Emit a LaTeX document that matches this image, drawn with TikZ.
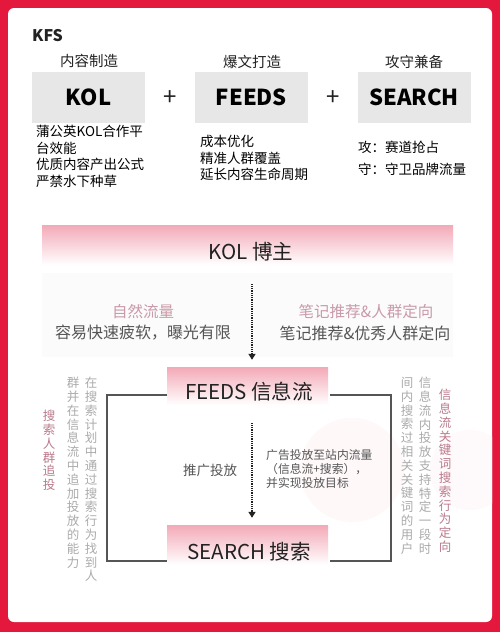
\documentclass[tikz,border=0pt]{standalone}
\usepackage{fontspec}
\setmainfont{Noto Sans CJK SC}
\usetikzlibrary{arrows.meta,calc}
\XeTeXlinebreaklocale "zh"
\XeTeXlinebreakskip=0pt plus 1pt

\definecolor{kfsred}{HTML}{E3183C}
\definecolor{boxgrey}{HTML}{E7E7E7}
\definecolor{bandpink}{HTML}{F3A9B7}
\definecolor{inkdark}{HTML}{222222}
\definecolor{inkmid}{HTML}{555555}
\definecolor{inklight}{HTML}{ABABAB}
\definecolor{inkpink}{HTML}{B97A8C}
\definecolor{softpink}{HTML}{C99AA7}

\tikzset{
  gbox/.style={fill=boxgrey, minimum width=113pt, minimum height=51pt, inner sep=0pt,
    font=\fontsize{22}{26}\selectfont\bfseries, text=black},
  head/.style={font=\fontsize{14.5}{17}\selectfont, text=inkdark},
  plus/.style={font=\fontsize{24}{26}\selectfont, text=inkdark},
  list/.style={anchor=north west, inner sep=0pt, align=left, text=black},
  band/.style={top color=bandpink, bottom color=white, inner sep=0pt},
  bandtext/.style={font=\fontsize{20.5}{24}\selectfont, text=inkdark},
  frame/.style={draw=inkmid, line width=1.1pt},
  flow/.style={draw=inkdark, line width=1.8pt, dash pattern=on 0.9pt off 0.9pt,
    -{Triangle[length=6pt,width=7pt]}},
  vcol/.style={anchor=north, inner sep=0pt, text width=14pt, align=center,
    font=\fontsize{12.5}{13.8}\selectfont},
}

\begin{document}
\begin{tikzpicture}[x=1pt,y=-1pt]
\useasboundingbox (0,0) rectangle (500,632);
\fill[kfsred] (0,0) rectangle (500,632);
\fill[white, rounded corners=6pt] (8,8) rectangle (492,622);

% faint decoration
\begin{scope}
\clip (8,8) rectangle (492,622);
\fill[kfsred!3] (352,470) circle (52);
\fill[kfsred!2.5] (470,470) circle (40);
\fill[black!1.5] (42,273) rectangle (453,357);
\end{scope}

% KFS header row
\node[anchor=west, inner sep=0pt, font=\fontsize{16}{18}\selectfont\bfseries, text=inkdark] (kfs) at (32,36) {KFS};

\node[gbox] (kol) at (88.5,97.5) {KOL};
\node[gbox] (feeds) at (251.5,97.5) {FEEDS};
\node[gbox] (search) at (414,97.5) {SEARCH};

\node[head] (kolhead) at (89,61) {内容制造};
\node[head] (feedshead) at (252,62) {爆文打造};
\node[head] (searchhead) at (414,62) {攻守兼备};

\node[plus] (plusa) at (170,98) {+};
\node[plus] (plusb) at (333,98) {+};

\node[list, font=\fontsize{13.5}{16.7}\selectfont] (kollist) at (36,125)
  {蒲公英KOL合作平\\台效能\\优质内容产出公式\\严禁水下种草};
\node[list, font=\fontsize{13.5}{16.5}\selectfont] (feedslist) at (200,135)
  {成本优化\\精准人群覆盖\\延长内容生命周期};
\node[list, font=\fontsize{13.5}{22}\selectfont] (searchlist) at (358,141)
  {攻：赛道抢占\\守：守卫品牌流量};

% KOL band
\node[band, minimum width=411pt, minimum height=40pt] (kolband) at (247.5,245) {};
\node[bandtext] (kolbz) at (251,252) {KOL 博主};

\node[font=\fontsize{15.5}{18}\selectfont, text=softpink] (natural) at (143,312) {自然流量};
\node[font=\fontsize{16}{18}\selectfont, text=inkmid] (naturaltx) at (143,333) {容易快速疲软，曝光有限};
\node[font=\fontsize{15.5}{18}\selectfont, text=softpink] (notes) at (366,312) {笔记推荐\&人群定向};
\node[font=\fontsize{16}{18}\selectfont, text=inkmid] (notestx) at (365,333) {笔记推荐\&优秀人群定向};

% FEEDS / SEARCH bands
\node[band, minimum width=161pt, minimum height=38pt] (feedsband) at (247.5,386) {};
\node[bandtext] (feedsbz) at (249,392) {FEEDS 信息流};
\node[band, minimum width=161pt, minimum height=40pt] (searchband) at (247.5,545) {};
\node[bandtext] (searchbz) at (249,552) {SEARCH 搜索};

\coordinate (ltop) at (107,395);
\coordinate (lbot) at (107,561);
\coordinate (rtop) at (391,395);
\coordinate (rbot) at (391,561);
\draw[frame] (feedsband.west |- ltop) -- (ltop) -- (lbot) -- (searchband.west |- lbot);
\draw[frame] ([xshift=2pt]feedsband.east |- rtop) -- (rtop) -- (rbot) -- ([xshift=2pt]searchband.east |- rbot);

% dotted arrows
\draw[flow, shorten <=19pt, shorten >=7pt] ([xshift=4.5pt]kolband.south) -- ([xshift=4.5pt]feedsband.north);
\draw[flow, shorten <=18pt, shorten >=7pt] ([xshift=4.5pt]feedsband.south) -- ([xshift=4.5pt]searchband.north);

\node[font=\fontsize{13.5}{16}\selectfont, text=inkmid] (promo) at (210,470) {推广投放};
\node[anchor=north west, inner sep=0pt, align=left, font=\fontsize{11.8}{14}\selectfont, text=inkmid] (promotx) at (266,449)
  {广告投放至站内流量\\（信息流+搜索），\\并实现投放目标};

% vertical texts
\node[vcol, text=inkpink] (lpink) at (49,410) {搜索人群追投};
\node[vcol, text=inklight] (lcola) at (91,377) {在搜索计划中通过搜索行为找到人};
\node[vcol, text=inklight] (lcolb) at (73,377) {群并在信息流中追加投放的能力};
\node[vcol, text=inklight] (rcola) at (425,377) {信息流内投放支持特定一段时};
\node[vcol, text=inklight] (rcolb) at (407,377) {间内搜索过相关关键词的用户};
\node[vcol, text=inkpink] (rpink) at (445,389) {信息流关键词搜索行为定向};
\end{tikzpicture}
\end{document}
